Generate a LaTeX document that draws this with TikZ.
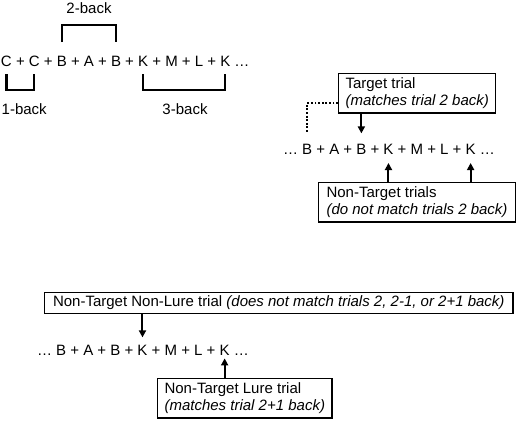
\documentclass[tikz,border=0pt]{standalone}
\usepackage{fontspec}
\setmainfont{Liberation Sans}
\usetikzlibrary{arrows.meta,calc}
\newcommand\pl{\kern0.278em+\kern0.278em}
\newcommand\el{\kern0.278em…}
\begin{document}
\begin{tikzpicture}[x=1pt,y=-1pt, font=\fontsize{15}{17.5}\selectfont,
 seqch/.style={anchor=base west, inner sep=0pt, outer sep=0pt},
 lbl/.style={anchor=base, inner sep=0pt},
 brk/.style={line width=2.3pt},
 arr/.style={line width=2pt, -{Triangle[length=7pt,width=7pt]}},
 dotl/.style={line width=1.9pt, dash pattern=on 1.9pt off 1.7pt},
 box/.style={draw, line width=1.1pt, anchor=north west, align=left, inner xsep=7pt, inner ysep=4pt}]
\fill[white] (0,0) rectangle (520,424);
\useasboundingbox (0,0) rectangle (520,424);
% row 1
\node[seqch] (r1n1) at (1,66.5) {C};
\foreach \t [count=\i from 2, remember=\i as \j (initially 1)] in {\pl,C,\pl,B,\pl,A,\pl,B,\pl,K,\pl,M,\pl,L,\pl,K,\el}
  \node[seqch] (r1n\i) at (r1n\j.base east) {\t};
% row 2
\node[seqch] (r2n1) at (283,154.4) {…\kern0.278em};
\foreach \t [count=\i from 2, remember=\i as \j (initially 1)] in {B,\pl,A,\pl,B,\pl,K,\pl,M,\pl,L,\pl,K,\el}
  \node[seqch] (r2n\i) at (r2n\j.base east) {\t};
% row 3
\node[seqch] (r3n1) at (37,355.4) {…\kern0.278em};
\foreach \t [count=\i from 2, remember=\i as \j (initially 1)] in {B,\pl,A,\pl,B,\pl,K,\pl,M,\pl,L,\pl,K,\el}
  \node[seqch] (r3n\i) at (r3n\j.base east) {\t};
% brackets
\draw[brk] (r1n5 |- 0,42) -- (r1n5 |- 0,25) -- (r1n9 |- 0,25) -- (r1n9 |- 0,42);
\draw[brk] (r1n1 |- 0,74) -- (r1n1 |- 0,90) -- (r1n3 |- 0,90) -- (r1n3 |- 0,74);
\draw[brk] (r1n11 |- 0,74) -- (r1n11 |- 0,90) -- (r1n17 |- 0,90) -- (r1n17 |- 0,74);
\node[lbl] (l2) at (89,13.4) {2-back};
\node[lbl, anchor=base west] (l1) at (1.5,114.4) {1-back};
\node[lbl] (l3) at (185,114.4) {3-back};
% boxes
\node[box] (tgt) at (338,73) {Target trial\\\textit{(matches trial 2 back)}};
\node[box, inner xsep=8pt] (ntg) at (318,182) {Non-Target trials\\\textit{(do not match trials 2 back)}};
\node[box, inner ysep=3.4pt, inner xsep=8.5pt] (nnl) at (44,292) {Non-Target Non-Lure trial \textit{(does not match trials 2, 2-1, or 2+1 back)}};
\node[box] (lure) at (157,378) {Non-Target Lure trial\\\textit{(matches trial 2+1 back)}};
% connectors
\draw[dotl] ([yshift=-10pt]tgt.west) -| ([yshift=10.7pt]r2n2.north);
\draw[arr] (tgt.south -| r2n6) -- ([yshift=10.7pt]r2n6.north);
\draw[arr] (ntg.north -| r2n8) -- ([yshift=-8.6pt]r2n8.south);
\draw[arr] (ntg.north -| r2n14) -- ([yshift=-8.6pt]r2n14.south);
\draw[arr] (nnl.south -| r3n8) -- ([yshift=7.7pt]r3n8.north);
\draw[arr] (lure.north -| r3n14) -- ([yshift=-3pt]r3n14.south);
\end{tikzpicture}
\end{document}
